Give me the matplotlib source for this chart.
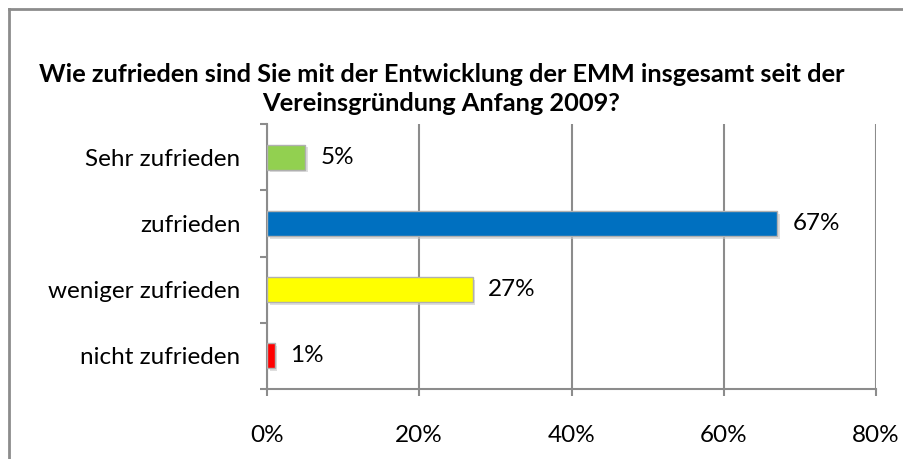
import matplotlib.pyplot as plt
from matplotlib.lines import Line2D
import matplotlib.patheffects as pe

plt.rcParams['font.family'] = ['Lato', 'DejaVu Sans']

# Survey data (top to bottom)
categories = ['Sehr zufrieden', 'zufrieden', 'weniger zufrieden', 'nicht zufrieden']
shares = [5, 67, 27, 1]
bar_colors = ['#92D050', '#0070C0', '#FFFF00', '#FF0000']
x_ticks = [0, 20, 40, 60, 80]
title = ('Wie zufrieden sind Sie mit der Entwicklung der EMM insgesamt seit der\n'
         'Vereinsgründung Anfang 2009?')

W, H = 904, 459
fig = plt.figure(figsize=(W / 100, H / 100), dpi=100)
ax = fig.add_axes([267 / W, 1 - 389 / H, (876 - 267) / W, (389 - 124) / H])

# outer chart frame (only left and top edges visible)
frame_kw = dict(transform=fig.transFigure, color='#8c8c8c', linewidth=2)
fig.add_artist(Line2D([9 / W, 9 / W], [0, 1 - 9 / H], **frame_kw))
fig.add_artist(Line2D([9 / W, 1], [1 - 9 / H, 1 - 9 / H], **frame_kw))

pos = list(range(len(categories)))[::-1]
bars = ax.barh(pos, shares, height=0.38, color=bar_colors, edgecolor='#b0b0b0',
               linewidth=1, zorder=3)
for b in bars:
    b.set_path_effects([pe.SimplePatchShadow(offset=(2, -2), shadow_rgbFace='#c8c8c8', alpha=0.6),
                        pe.Normal()])

for p, v in zip(pos, shares):
    ax.annotate(f'{v}%', xy=(v, p), xytext=(11, 0), textcoords='offset points',
                va='center', ha='left', fontsize=17.5)

ax.set_xlim(0, 80)
ax.set_ylim(-0.5, len(categories) - 0.5)
ax.set_xticks(x_ticks)
ax.set_xticklabels([f'{t}%' for t in x_ticks], fontsize=17.5)
ax.set_yticks(pos)
ax.set_yticklabels(categories, fontsize=17.5)
ax.set_yticks([i - 0.5 for i in range(len(categories) + 1)], minor=True)
ax.tick_params(axis='y', which='major', length=0, pad=19)
ax.tick_params(axis='y', which='minor', length=5, color='#8c8c8c', width=1.5)
ax.tick_params(axis='x', length=5, color='#8c8c8c', width=1.5, pad=21)

ax.grid(axis='x', color='#8c8c8c', linewidth=1.5, zorder=0)
for s in ['top', 'right']:
    ax.spines[s].set_visible(False)
for s in ['left', 'bottom']:
    ax.spines[s].set_color('#8c8c8c')
    ax.spines[s].set_linewidth(1.5)

fig.text(0.5 * (36 + 847) / W, 1 - 89 / H, title, ha='center', va='center',
         fontsize=18.3, fontweight='bold', linespacing=1.3)

fig.savefig('out.png', dpi=100, facecolor='white')
